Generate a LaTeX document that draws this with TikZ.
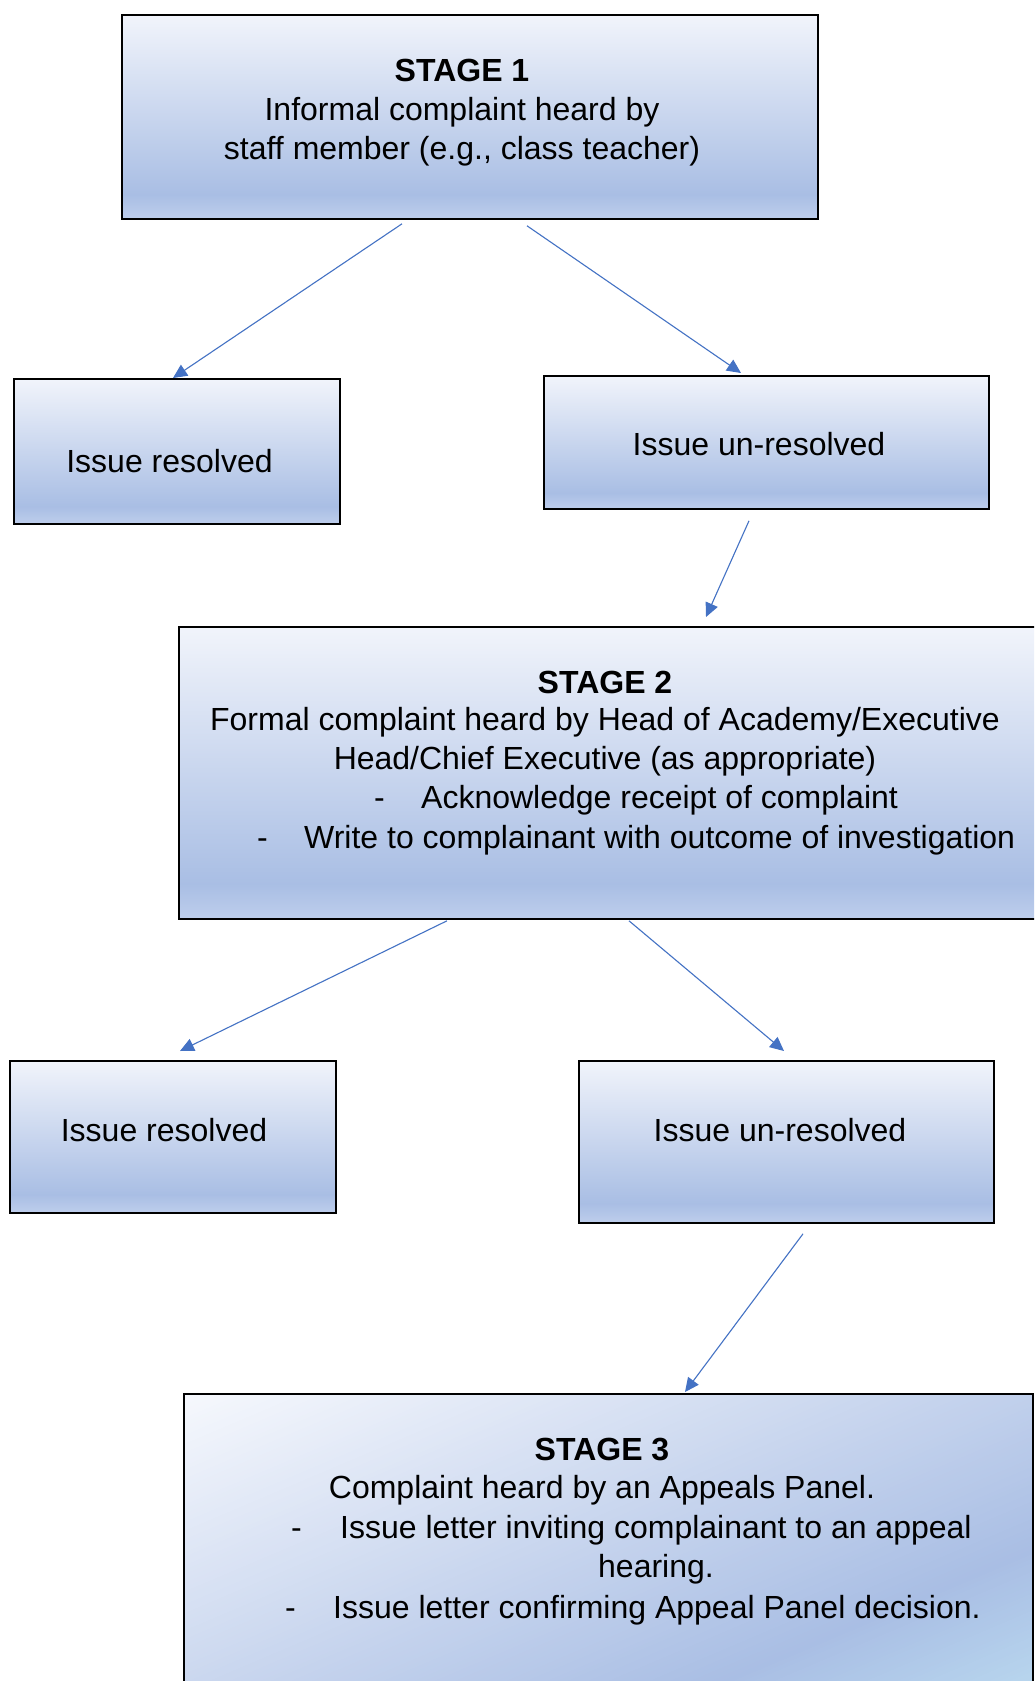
\documentclass[tikz,border=0pt]{standalone}
\usepackage{fontspec}
\setmainfont{Liberation Sans}
\usetikzlibrary{arrows.meta,calc}
\definecolor{arr}{RGB}{68,114,196}
\definecolor{gtop}{RGB}{241,244,251}
\definecolor{gwhite}{RGB}{246,248,253}
\definecolor{gmid}{RGB}{169,190,228}
\definecolor{gbot}{RGB}{190,206,236}
\definecolor{gcyan}{RGB}{184,214,238}
\pgfdeclareverticalshading{wordgrad}{100bp}{color(0bp)=(gbot); color(25bp)=(gbot); color(31bp)=(gmid); color(75bp)=(gtop); color(100bp)=(gtop)}
\tikzset{
  box/.style={draw=black, line width=1.8pt, shade, shading=wordgrad, anchor=north west, inner sep=0pt},
  framebox/.style={draw=black, line width=1.8pt, anchor=north west, inner sep=0pt},
  txt/.style={font=\fontsize{32}{39}\selectfont, inner sep=0pt, anchor=base},
  txtw/.style={font=\fontsize{32}{39}\selectfont, inner sep=0pt, anchor=base west},
  conn/.style={draw=arr, line width=1.1pt, -{Triangle[length=14pt,width=13pt]}}
}
\begin{document}
\begin{tikzpicture}[x=1pt,y=-1pt]
\useasboundingbox (0,0) rectangle (1034,1681);
\clip (0,0) rectangle (1034,1681);
\fill[white] (0,0) rectangle (1034,1681);

% boxes
\node[box, minimum width=696pt, minimum height=204pt] (s1) at (121,14) {};
\node[box, minimum width=326pt, minimum height=145pt] (r1) at (13,378) {};
\node[box, minimum width=445pt, minimum height=133pt] (u1) at (543,375) {};
\node[box, minimum width=870pt, minimum height=292pt] (s2) at (178,626) {};
\node[box, minimum width=326pt, minimum height=152pt] (r2) at (9,1060) {};
\node[box, minimum width=415pt, minimum height=162pt] (u2) at (578,1060) {};

% stage 3 diagonal gradient
\begin{scope}
\clip (183,1393) rectangle (1032,1703);
\foreach \d in {0,4,...,660}{
  \pgfmathsetmacro{\tA}{max(0,min(100,100-\d/4.75))}
  \pgfmathsetmacro{\tB}{max(0,min(100,(\d-475)/1.25))}
  \ifdim\d pt<475pt
    \colorlet{stripcol}{gwhite!\tA!gmid}
  \else
    \colorlet{stripcol}{gcyan!\tB!gmid}
  \fi
  \fill[stripcol] ({183+\d*0.39+1104},{1393+\d*0.92-468})
    -- ({183+\d*0.39-1104},{1393+\d*0.92+468})
    -- ({183+(\d+5)*0.39-1104},{1393+(\d+5)*0.92+468})
    -- ({183+(\d+5)*0.39+1104},{1393+(\d+5)*0.92-468}) -- cycle;
}
\end{scope}
\node[framebox, minimum width=849pt, minimum height=310pt] (s3) at (183,1393) {};

% stage 1 text
\node[txt] (s1a) at (462,81) {\bfseries STAGE 1};
\node[txt] (s1b) at (462,120) {Informal complaint heard by};
\node[txt] (s1c) at (462,159) {staff member (e.g., class teacher)};

\node[txt] (r1t) at (169.5,472) {Issue resolved};
\node[txt] (u1t) at (759,455) {Issue un-resolved};

% stage 2 text
\node[txt] (s2a) at (605,693) {\bfseries STAGE 2};
\node[txt] (s2b) at (605,730) {Formal complaint heard by Head of Academy/Executive};
\node[txt] (s2c) at (605,769) {Head/Chief Executive (as appropriate)};
\node[txtw] (s2d1) at (374,808) {-};
\node[txtw] (s2d) at (421,808) {Acknowledge receipt of complaint};
\node[txtw] (s2e1) at (257,848) {-};
\node[txtw] (s2e) at (304,848) {Write to complainant with outcome of investigation};

\node[txt] (r2t) at (164,1141) {Issue resolved};
\node[txt] (u2t) at (780,1141) {Issue un-resolved};

% stage 3 text
\node[txt] (s3a) at (602,1460) {\bfseries STAGE 3};
\node[txt] (s3b) at (602,1498) {Complaint heard by an Appeals Panel.};
\node[txtw] (s3c1) at (291,1538) {-};
\node[txtw] (s3c) at (340,1538) {Issue letter inviting complainant to an appeal};
\node[txt] (s3d) at (656,1577) {hearing.};
\node[txtw] (s3e1) at (285,1618) {-};
\node[txtw] (s3e) at (333,1618) {Issue letter confirming Appeal Panel decision.};

% connector end points
\coordinate (a1s) at ($(s1.south west)+(281,4)$);
\coordinate (a1e) at ($(r1.north west)+(160,0)$);
\coordinate (a2s) at ($(s1.south west)+(406,6)$);
\coordinate (a2e) at ($(u1.north west)+(198,-2)$);
\coordinate (a3s) at ($(u1.south west)+(206,11)$);
\coordinate (a3e) at ($(s2.north west)+(528,-9)$);
\coordinate (a4s) at ($(s2.south west)+(269,1)$);
\coordinate (a4e) at ($(r2.north west)+(171,-9)$);
\coordinate (a5s) at ($(s2.south west)+(451,1)$);
\coordinate (a5e) at ($(u2.north west)+(206,-9)$);
\coordinate (a6s) at ($(u2.south west)+(225,10)$);
\coordinate (a6e) at ($(s3.north west)+(502,-1)$);

\draw[conn] (a1s) -- (a1e);
\draw[conn] (a2s) -- (a2e);
\draw[conn] (a3s) -- (a3e);
\draw[conn] (a4s) -- (a4e);
\draw[conn] (a5s) -- (a5e);
\draw[conn] (a6s) -- (a6e);
\end{tikzpicture}
\end{document}
